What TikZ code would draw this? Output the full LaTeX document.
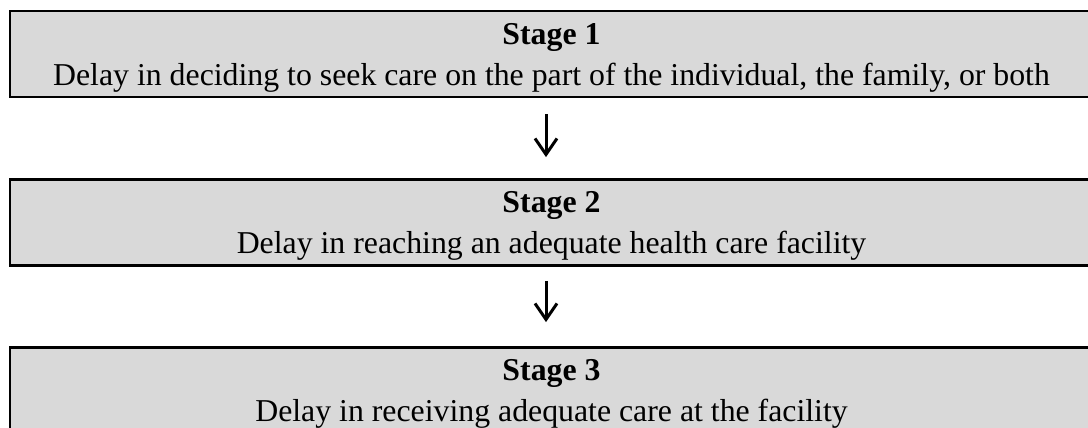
\documentclass[tikz,border=0pt]{standalone}
\usepackage{fontspec}
\setmainfont{Liberation Serif}
\usetikzlibrary{arrows.meta}

\begin{document}
\begin{tikzpicture}[x=0.5pt,y=-0.5pt,
  stagebox/.style={draw=black, line width=1.4pt, fill=stagegray,
    minimum width=541.5pt, minimum height=43pt, inner sep=0pt,
    align=center, font=\fontsize{15.9}{20.5}\selectfont, text depth=0pt},
  flow/.style={line width=1.5pt, -{Straight Barb[length=8pt,width=11pt]}}]
 \definecolor{stagegray}{RGB}{217,217,217}
 \useasboundingbox (0,0) rectangle (1088,428);

 \node[stagebox] (stage1) at (551.5,54)
  {\textbf{Stage 1}\\Delay in deciding to seek care on the part of the individual, the family, or both};
 \node[stagebox] (stage2) at (551.5,222.5)
  {\textbf{Stage 2}\\Delay in reaching an adequate health care facility};
 \node[stagebox] (stage3) at (551.5,390.5)
  {\textbf{Stage 3}\\Delay in receiving adequate care at the facility};

 \draw[flow, shorten <=8pt, shorten >=10.5pt] ([xshift=-2.75pt]stage1.south) -- ([xshift=-2.75pt]stage2.north);
 \draw[flow, shorten <=7pt, shorten >=12pt] ([xshift=-2.75pt]stage2.south) -- ([xshift=-2.75pt]stage3.north);
\end{tikzpicture}
\end{document}
